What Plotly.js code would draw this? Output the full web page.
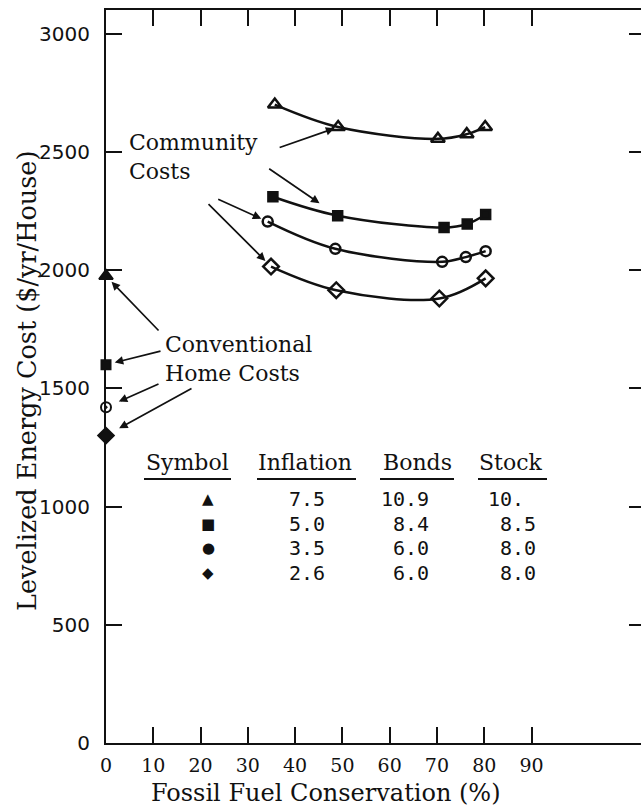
<!DOCTYPE html>
<html>
<head>
<meta charset="utf-8">
<script src="https://cdn.plot.ly/plotly-3.0.1.min.js"></script>
<style>
  html, body { margin: 0; padding: 0; overflow: hidden; background: #fff; }
</style>
</head>
<body>
<div id="chart"></div>
<script>
// Levelized energy cost ($/yr/house) versus fossil fuel conservation (%)
// for four financing scenarios (community systems).
const triX  = [35.7, 49.1, 70.2, 76.3, 80.2];
const triY  = [2700, 2605, 2555, 2575, 2605];
const sqX   = [35.3, 49.0, 71.5, 76.4, 80.3];
const sqY   = [2310, 2230, 2180, 2195, 2235];
const circX = [34.2, 48.5, 71.1, 76.1, 80.3];
const circY = [2205, 2090, 2035, 2055, 2080];
const diaX  = [34.9, 48.7, 70.5, 80.3];
const diaY  = [2015, 1915, 1880, 1965];

// Conventional homes (no conservation), one per scenario
const convX = [0, 0, 0, 0];
const convY = [1975, 1600, 1420, 1300];

const xTicks = [0, 10, 20, 30, 40, 50, 60, 70, 80, 90];
const yTicks = [0, 500, 1000, 1500, 2000, 2500, 3000];

// Scenario table
const tableHeaders = ['Symbol', 'Inflation', 'Bonds', 'Stock'];
const tableSymbols = ['\u25B2', '\u25A0', '\u25CF', '\u25C6'];
const inflation = ['7.5', '5.0', '3.5', '2.6'];
const bonds     = ['10.9', '8.4', '6.0', '6.0'];
const stock     = ['10.', '8.5', '8.0', '8.0'];

// ---- geometry ----
const W = 645, H = 810, L = 106, R = 0, T = 10, B = 67;
const PW = W - L - R, PH = H - T - B;
const XMAX = 114, YMAX = 3100;
// pixel position -> paper fraction
const px = v => (v - L) / PW;
const py = v => (H - B - v) / PH;

const SERIF = 'DejaVu Serif';
const MONO = 'DejaVu Sans Mono';
const ink = '#111';

function curve(x, y, symbol, size) {
  return {
    x: x, y: y, type: 'scatter', mode: 'lines+markers',
    line: { color: ink, width: 2.5, shape: 'spline', smoothing: 1 },
    marker: { symbol: symbol, size: size, color: ink, opacity: 1, line: { color: ink, width: 2.5 } },
    cliponaxis: false, showlegend: false, hoverinfo: 'skip'
  };
}

const traces = [
  curve(triX, triY, 'triangle-up-open', 12),
  curve(sqX, sqY, 'square', 9),
  curve(circX, circY, 'circle-open', 10),
  curve(diaX, diaY, 'diamond-open', 12),
  {
    x: convX, y: convY, type: 'scatter', mode: 'markers',
    marker: {
      symbol: ['triangle-up', 'square', 'circle-open-dot', 'diamond'],
      size: [12, 9, 10, 12], color: ink, opacity: 1, line: { color: ink, width: 2 }
    },
    cliponaxis: false, showlegend: false, hoverinfo: 'skip'
  }
];

const annotations = [];
const shapes = [];

function label(text, xPix, yPix, opts) {
  annotations.push(Object.assign({
    text: text, xref: 'paper', yref: 'paper', x: px(xPix), y: py(yPix),
    xanchor: 'left', yanchor: 'middle', showarrow: false, align: 'left',
    font: { family: SERIF, size: 22, color: ink }
  }, opts || {}));
}

function pointer(x, y, ax, ay, standoff) {
  annotations.push({
    text: '', xref: 'x', yref: 'y', x: x, y: y, ax: ax, ay: ay,
    showarrow: true, arrowhead: 2, arrowsize: 1, arrowwidth: 1.7,
    arrowcolor: ink, standoff: standoff
  });
}

// Callouts
label('Community<br>Costs', 127, 157);
label('Conventional<br>Home Costs', 163, 359);

pointer(triX[1], triY[1], -60, 21, 4);
pointer(sqX[1], sqY[1], -70, -48, 22);
pointer(circX[0], circY[0], -51, -23, 7);
pointer(diaX[0], diaY[0], -64, -64, 8);
pointer(convX[0], convY[0], 54, 56, 8);
pointer(convX[1], convY[1], 56, -14, 9);
pointer(convX[2], convY[2], 54, -24, 14);
pointer(convX[3], convY[3], 87, -48, 15);

// Scenario table
const headX = [187, 305, 417, 510];
const ulines = [[144, 231], [257, 356], [380, 454], [478, 547]];
tableHeaders.forEach((h, i) => {
  label(h, headX[i], 463, { xanchor: 'center', font: { family: SERIF, size: 22, color: ink } });
  shapes.push({
    type: 'line', xref: 'paper', yref: 'paper',
    x0: px(ulines[i][0]), x1: px(ulines[i][1]), y0: py(479), y1: py(479),
    line: { color: ink, width: 1.8 }
  });
});
const rowY = [499, 524, 548, 573];
const monoFont = { family: MONO, size: 20, color: ink };
// pad so that decimal points line up when right-aligned
const padDec = s => (s.endsWith('.') ? s + '\u00a0' : s);
rowY.forEach((yy, i) => {
  label(tableSymbols[i], 208, yy, { xanchor: 'center', font: { family: 'DejaVu Sans', size: 15, color: ink } });
  label(inflation[i], 307, yy, { xanchor: 'center', font: monoFont });
  label(bonds[i], 431, yy, { xanchor: 'right', font: monoFont });
  label(padDec(stock[i]), 538, yy, { xanchor: 'right', font: monoFont });
});

// Axis titles
label('Fossil Fuel Conservation (%)', 326, 793, { xanchor: 'center', font: { family: SERIF, size: 24, color: ink } });
label('Levelized Energy Cost ($/yr/House)', 27, 381,
  { xanchor: 'center', textangle: -90, font: { family: SERIF, size: 25.5, color: ink } });

const layout = {
  width: W, height: H,
  margin: { l: L, r: R, t: T, b: B },
  paper_bgcolor: '#fff', plot_bgcolor: '#fff',
  showlegend: false,
  xaxis: {
    range: [0, XMAX], tickvals: xTicks, ticktext: xTicks.map(String),
    ticks: 'inside', ticklen: 16, tickwidth: 2, tickcolor: ink,
    showline: true, linecolor: ink, linewidth: 2, mirror: 'ticks',
    showgrid: false, zeroline: false, ticklabelstandoff: 4,
    tickfont: { family: SERIF, size: 19, color: ink }
  },
  yaxis: {
    range: [0, YMAX], tickvals: yTicks, ticktext: yTicks.map(String),
    ticks: 'inside', ticklen: 16, tickwidth: 2, tickcolor: ink,
    showline: true, linecolor: ink, linewidth: 2, mirror: 'ticks',
    showgrid: false, zeroline: false, ticklabelstandoff: 10,
    tickfont: { family: 'DejaVu Sans', size: 20, color: ink }
  },
  annotations: annotations,
  shapes: shapes
};

Plotly.newPlot('chart', traces, layout, { staticPlot: true, displayModeBar: false });
</script>
</body>
</html>
